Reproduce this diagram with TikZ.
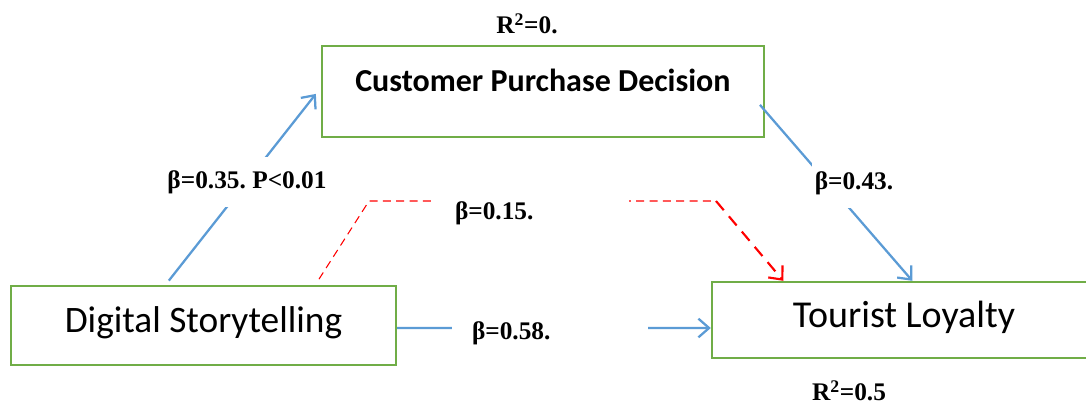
\documentclass[tikz,border=0pt]{standalone}
\usepackage{fontspec}
\setmainfont{Liberation Serif}
\newfontfamily\boxfont{Carlito}
\usetikzlibrary{arrows.meta}
\definecolor{boxgreen}{RGB}{112,173,71}
\definecolor{pathblue}{RGB}{91,155,213}

\begin{document}
\begin{tikzpicture}[x=0.75pt,y=-0.75pt,
		construct/.style={draw=boxgreen,line width=1.8pt,fill=white},
		coef/.style={font=\fontsize{19}{21}\selectfont\bfseries,inner sep=2pt},
		gap/.style={coef,fill=white},
		effect/.style={draw=pathblue,line width=1.7pt,-{Straight Barb[length=8pt,width=14pt]}},
		weak/.style={draw=red,line width=0.8pt,dash pattern=on 6pt off 4pt}]
		\useasboundingbox (0,0) rectangle (1086,405);
		% the three constructs
		\node[construct,minimum width=331.5pt,minimum height=68.25pt,font=\boxfont\fontsize{24}{27}\selectfont\bfseries] (cpd) at (543,91.5) {\raisebox{0pt}[0pt][0pt]{Customer Purchase Decision}};
		\node[construct,minimum width=288.75pt,minimum height=59.25pt,font=\boxfont\fontsize{28}{31}\selectfont] (ds) at (203.5,325.5) {\raisebox{-5.6pt}[0pt][0pt]{Digital Storytelling}};
		\node[construct,minimum width=288pt,minimum height=57pt,font=\boxfont\fontsize{28.5}{31}\selectfont] (tl) at (904,320) {\raisebox{-5.25pt}[0pt][0pt]{Tourist Loyalty}};
		% paths
		\draw[effect,shorten <=4pt,shorten >=6pt] (ds.133) -- (cpd.179);
		\draw[effect,shorten <=-6pt] (cpd.-5) -- (tl.78);
		\draw[effect] ([yshift=-1.9pt]ds.east) -- ([yshift=-6pt]tl.west);
		\coordinate (bend) at (716,201);
		\draw[weak,shorten <=5pt] (ds.20) -- (369,201) -- (bend);
		\draw[weak,line width=1.6pt,dash pattern=on 9pt off 6pt,-{Straight Barb[length=8pt,width=14pt]}] (bend) -- (tl.162);
		% coefficients
		\node[coef] (r2cpd) at (527,24) {R\textsuperscript{2}=0.};
		\node[gap,minimum height=38pt] (b1) at (247,182) {β=0.35.\ P<0.01};
		\node[gap,text width=113.25pt,inner xsep=17.25pt,align=left] (b2) at (530.5,213) {β=0.15.};
		\node[gap,minimum height=37.5pt] (b3) at (854,183) {β=0.43.};
		\node[gap,text width=117pt,inner xsep=15pt,align=left] (b4) at (550,333) {β=0.58.};
		\node[coef] (r2tl) at (849,391) {R\textsuperscript{2}=0.5};
\end{tikzpicture}
\end{document}
